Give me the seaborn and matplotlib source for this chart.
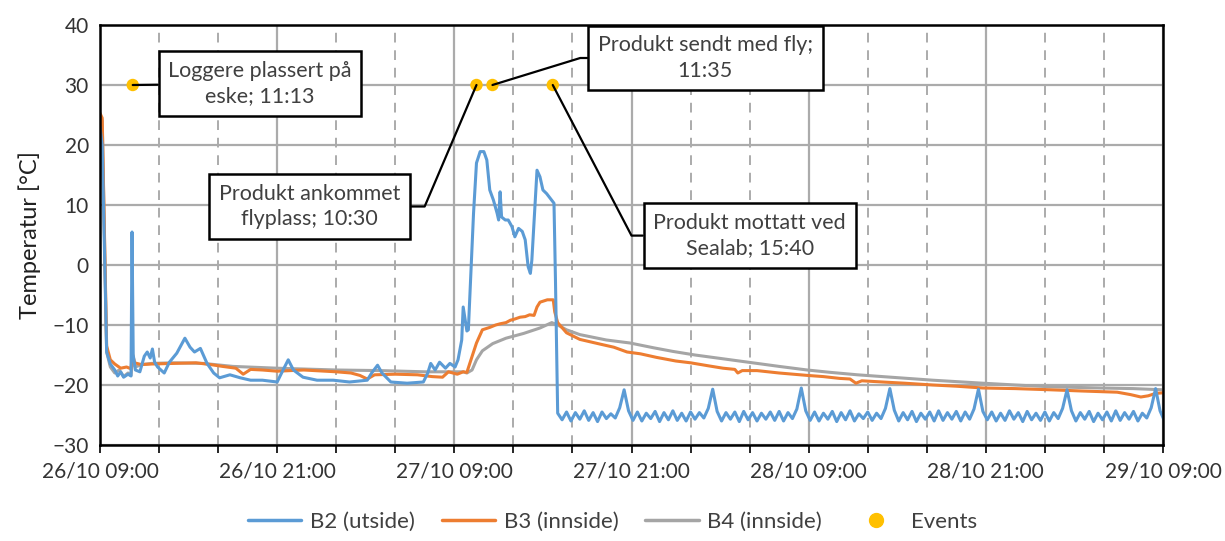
import numpy as np
import pandas as pd
import seaborn as sns
import matplotlib.pyplot as plt
from matplotlib.ticker import MultipleLocator
from matplotlib.lines import Line2D

# hours after 26/10 09:00
b2_hours = [0.0, 0.15, 0.45, 0.7, 1.0, 1.2, 1.4, 1.6, 1.9, 2.1, 2.17, 2.25, 2.4, 2.7, 3.0, 3.2,
            3.4, 3.55, 3.7, 3.9, 4.35, 4.7, 5.2, 5.75, 6.1, 6.4, 6.8, 7.25, 7.7, 8.1, 8.8,
            9.5, 10.2, 11.0, 12.0, 12.4, 12.75, 13.1, 13.75, 14.7, 15.8, 16.9, 18.1, 18.4,
            18.8, 19.1, 19.7, 20.8, 21.9, 22.2, 22.4, 22.7, 23.0, 23.4, 23.7, 24.05, 24.25,
            24.5, 24.6, 24.85, 24.95, 25.05, 25.2, 25.3, 25.5, 25.75, 26.0, 26.2, 26.4, 26.65,
            26.9, 27.0, 27.1, 27.2, 27.45, 27.65, 27.9, 28.1, 28.35, 28.6, 28.8, 29.0, 29.15,
            29.25, 29.5, 29.6, 29.8, 30.0, 30.25, 30.6, 30.75, 30.85]
b2_temp = [23.0, 20.0, -14.5, -16.5, -17.5, -18.5, -17.8, -18.7, -18.2, -18.5, 5.5, -15.0, -17.5,
           -17.8, -15.2, -14.5, -15.5, -14.0, -16.2, -17.0, -18.0, -16.2, -14.7, -12.2, -13.7,
           -14.5, -13.9, -16.4, -18.0, -18.8, -18.3, -18.8, -19.2, -19.2, -19.5, -17.5, -15.8,
           -17.5, -18.7, -19.2, -19.2, -19.5, -19.2, -18.0, -16.7, -18.0, -19.5, -19.7, -19.5,
           -18.0, -16.4, -17.5, -16.2, -17.2, -16.4, -17.0, -15.8, -12.5, -7.0, -11.0, -10.8,
           -5.3, 3.0, 8.6, 17.0, 18.9, 18.9, 17.5, 12.5, 10.8, 8.6, 7.5, 12.2, 8.0, 7.5, 7.5,
           6.4, 4.7, 6.1, 5.6, 4.2, -0.3, -1.4, 0.8, 11.4, 15.8, 14.7, 12.5, 11.9, 10.8, 10.3,
           -2.5]
# after arrival at Sealab the logger reads every 0.3 h
b2_tail_start = 31.0
b2_tail_step = 0.3
b2_tail_temp = [-24.7, -25.8, -24.5, -26.0, -24.6, -25.7, -24.3, -25.9, -24.6, -26.1, -24.5, -25.6,
                -24.8, -25.5, -23.8,
                -20.8,
                -24.3, -25.9, -24.5, -26.0, -24.7, -25.6, -24.4, -26.1, -24.6, -25.8, -24.3, -25.9,
                -24.7, -26.0, -24.5, -25.7, -24.6, -25.5, -23.9,
                -20.7,
                -24.4, -26.0, -24.6, -25.7, -24.5, -26.1, -24.4, -25.8, -24.6, -26.0, -24.7, -25.7,
                -24.5, -25.9, -24.4, -26.0, -24.6, -25.6, -24.0,
                -20.5,
                -24.3, -25.9, -24.5, -26.0, -24.7, -25.7, -24.4, -26.1, -24.6, -25.8, -24.3, -26.0,
                -24.8, -25.6, -24.5, -25.9, -24.7, -25.6, -23.9,
                -20.6,
                -24.2, -26.0, -24.6, -25.8, -24.4, -26.1, -24.7, -25.7, -24.5, -26.0, -24.3, -25.9,
                -24.6, -25.7, -24.4, -26.0, -24.5, -25.7, -24.0,
                -20.7,
                -24.4, -25.8, -24.5, -26.0, -24.7, -25.9, -24.3, -25.7, -24.6, -26.1, -24.4, -25.8,
                -24.7, -25.9, -24.5, -26.0, -24.6, -25.6, -23.9,
                -20.8,
                -24.3, -26.0, -24.6, -25.7, -24.4, -26.1, -24.7, -25.8, -24.5, -26.0, -24.3, -25.9,
                -24.6, -25.7, -24.4, -26.0, -24.7, -25.5, -23.8,
                -20.6,
                -24.3, -26.0]

b3_hours = [0.0, 0.15, 0.45, 0.7, 1.0, 1.4, 1.8, 2.1, 2.2, 2.35, 2.8, 3.5, 5.0, 6.5, 7.5, 8.3,
            9.2, 9.7, 10.2, 11.0, 12.0, 13.8, 16.0, 17.0, 17.6, 18.1, 18.6, 20.0, 21.5, 22.5,
            23.2, 23.6, 24.2, 24.6, 24.85, 25.1, 25.5, 25.9, 26.4, 26.8, 27.1, 27.5, 27.8, 28.1,
            28.45, 28.8, 29.1, 29.4, 29.6, 29.8, 30.3, 30.7, 30.8, 31.0, 31.6, 32.5, 33.9, 34.8,
            35.7, 36.6, 37.7, 39.0, 40.0, 41.2, 42.2, 43.0, 43.2, 43.5, 44.5, 46.0, 47.9, 49.0,
            50.1, 50.8, 51.2, 51.6, 53.0, 54.5, 56.4, 58.0, 59.8, 62.0, 64.4, 66.5, 68.9, 69.8,
            70.5, 71.0, 71.5, 72.0]
b3_temp = [25.3, 24.5, -13.5, -15.8, -16.5, -17.2, -17.0, -17.3, -14.8, -16.3, -16.6, -16.5,
           -16.4, -16.3, -16.6, -16.9, -17.2, -18.2, -17.4, -17.5, -17.7, -17.5, -17.8, -18.0,
           -18.4, -19.0, -18.3, -18.2, -18.3, -18.6, -18.7, -17.8, -18.2, -17.8, -17.9, -16.0,
           -13.0, -10.8, -10.4, -10.0, -9.8, -9.6, -9.2, -9.0, -8.7, -8.6, -8.3, -8.4, -7.0,
           -6.2, -5.8, -5.8, -7.8, -9.6, -11.3, -12.4, -13.2, -13.7, -14.5, -14.8, -15.4, -16.0,
           -16.3, -16.8, -17.2, -17.4, -18.0, -17.6, -17.6, -18.0, -18.4, -18.6, -18.9, -19.0,
           -19.7, -19.3, -19.5, -19.7, -20.0, -20.2, -20.5, -20.6, -20.8, -21.0, -21.2, -21.6,
           -22.0, -21.8, -21.4, -21.3]

b4_hours = [0.0, 0.15, 0.45, 0.7, 1.0, 1.3, 1.6, 1.9, 2.1, 2.2, 2.4, 2.8, 3.5, 5.0, 7.0, 9.0,
            12.0, 16.0, 19.0, 22.0, 24.6, 24.85, 25.2, 25.5, 25.9, 26.6, 27.5, 28.7, 29.8, 30.6,
            31.0, 31.6, 32.5, 34.3, 35.9, 37.5, 38.8, 40.3, 41.8, 43.0, 44.2, 46.0, 47.9, 49.5,
            51.3, 53.0, 56.4, 59.8, 62.0, 64.4, 67.8, 70.0, 72.0]
b4_temp = [25.0, 24.0, -14.5, -17.0, -18.0, -17.5, -18.6, -18.0, -18.4, -16.0, -17.0, -16.6,
           -16.4, -16.3, -16.4, -16.9, -17.2, -17.5, -17.6, -17.8, -17.8, -18.0, -17.5, -15.8,
           -14.3, -13.1, -12.2, -11.4, -10.5, -9.6, -10.0, -10.8, -11.6, -12.5, -13.0, -13.8,
           -14.4, -15.0, -15.5, -15.9, -16.3, -16.9, -17.5, -17.9, -18.3, -18.6, -19.2, -19.7,
           -20.0, -20.3, -20.5, -20.6, -20.8]

event_hours = [2.217, 25.5, 26.583, 30.667]
event_temp = [30, 30, 30, 30]
event_labels = ["Loggere plassert på\neske; 11:13", "Produkt ankommet\nflyplass; 10:30",
                "Produkt sendt med fly;\n11:35", "Produkt mottatt ved\nSealab; 15:40"]

series_names = ["B2 (utside)", "B3 (innside)", "B4 (innside)"]
colors = ["#5B9BD5", "#ED7D31", "#A5A5A5"]
event_color = "#FFC000"
tick_labels = ["26/10 09:00", "26/10 21:00", "27/10 09:00", "27/10 21:00",
               "28/10 09:00", "28/10 21:00", "29/10 09:00"]


def main():
    sns.set_style("white")
    plt.rcParams['font.family'] = ['Lato', 'DejaVu Sans']
    plt.rcParams['text.color'] = '#404040'

    tail_hours = b2_tail_start + b2_tail_step * np.arange(len(b2_tail_temp))
    frames = [
        pd.DataFrame({'hour': list(b2_hours) + list(tail_hours),
                      'temp': b2_temp + b2_tail_temp, 'series': series_names[0]}),
        pd.DataFrame({'hour': b3_hours, 'temp': b3_temp, 'series': series_names[1]}),
        pd.DataFrame({'hour': b4_hours, 'temp': b4_temp, 'series': series_names[2]}),
    ]
    df = pd.concat(frames, ignore_index=True)
    events = pd.DataFrame({'hour': event_hours, 'temp': event_temp})

    fig = plt.figure(figsize=(12.25, 5.41), dpi=100)
    ax = fig.add_axes([100 / 1225, 1 - 445 / 541, 1063 / 1225, 420 / 541])

    # B4 and B3 under B2
    for name, col in reversed(list(zip(series_names, colors))):
        sns.lineplot(data=df[df['series'] == name], x='hour', y='temp', color=col,
                     lw=2.2, estimator=None, ax=ax, legend=False, zorder=3)
    sns.scatterplot(data=events, x='hour', y='temp', color=event_color, s=80,
                    edgecolor='none', ax=ax, legend=False, zorder=6)

    ax.set_xlim(0, 72)
    ax.set_ylim(-30, 40)
    ax.set_yticks(range(-30, 41, 10))
    ax.set_xticks(range(0, 73, 12))
    ax.set_xticklabels(tick_labels)
    ax.xaxis.set_minor_locator(MultipleLocator(4))
    ax.grid(axis='y', color='#ABABAB', lw=1.6)
    ax.grid(axis='x', which='major', color='#ABABAB', lw=1.6)
    ax.grid(axis='x', which='minor', color='#ABABAB', lw=1.4, ls=(0, (5, 4)))
    ax.tick_params(axis='x', which='both', direction='out', length=6, color='black',
                   width=1.2, bottom=True, labelsize=15, labelcolor='#333333', pad=6)
    ax.tick_params(axis='y', length=0, labelsize=15, labelcolor='#333333', pad=8)
    ax.set_xlabel("")
    ax.set_ylabel("Temperatur [°C]", fontsize=17, color='#202020', labelpad=8)
    for sp in ax.spines.values():
        sp.set_color('black')
        sp.set_linewidth(1.8)
        sp.set_zorder(7)

    # annotation boxes: (centre hour, centre temp, connection style)
    box_pos = [(10.84, 30.25, "arc3,rad=0"),
               (14.19, 9.75, "angle,angleA=0,angleB=66.9,rad=0"),
               (41.0, 34.5, "angle,angleA=0,angleB=17.1,rad=0"),
               (44.0, 4.9, "angle,angleA=0,angleB=-62.4,rad=0")]
    for h, t, label, (bx, by, cs) in zip(event_hours, event_temp, event_labels, box_pos):
        ax.annotate(label, xy=(h, t), xytext=(bx, by), ha='center', va='center',
                    fontsize=15.5, color='#404040', linespacing=1.35, zorder=8,
                    bbox=dict(boxstyle='square,pad=0.45', fc='white', ec='black', lw=1.8),
                    arrowprops=dict(arrowstyle='-', color='black', lw=1.6,
                                    shrinkA=0, shrinkB=0, connectionstyle=cs))

    handles = [Line2D([], [], color=c, lw=2.5) for c in colors]
    handles.append(Line2D([], [], color=event_color, marker='o', ls='none', markersize=10))
    fig.legend(handles, series_names + ["Events"], loc='center',
               bbox_to_anchor=(0.5, 1 - 522 / 541), ncol=4, frameon=False, fontsize=16,
               handlelength=2.4, handletextpad=0.4, columnspacing=1.2)

    plt.savefig("out.png", dpi=100)


if __name__ == "__main__":
    main()
